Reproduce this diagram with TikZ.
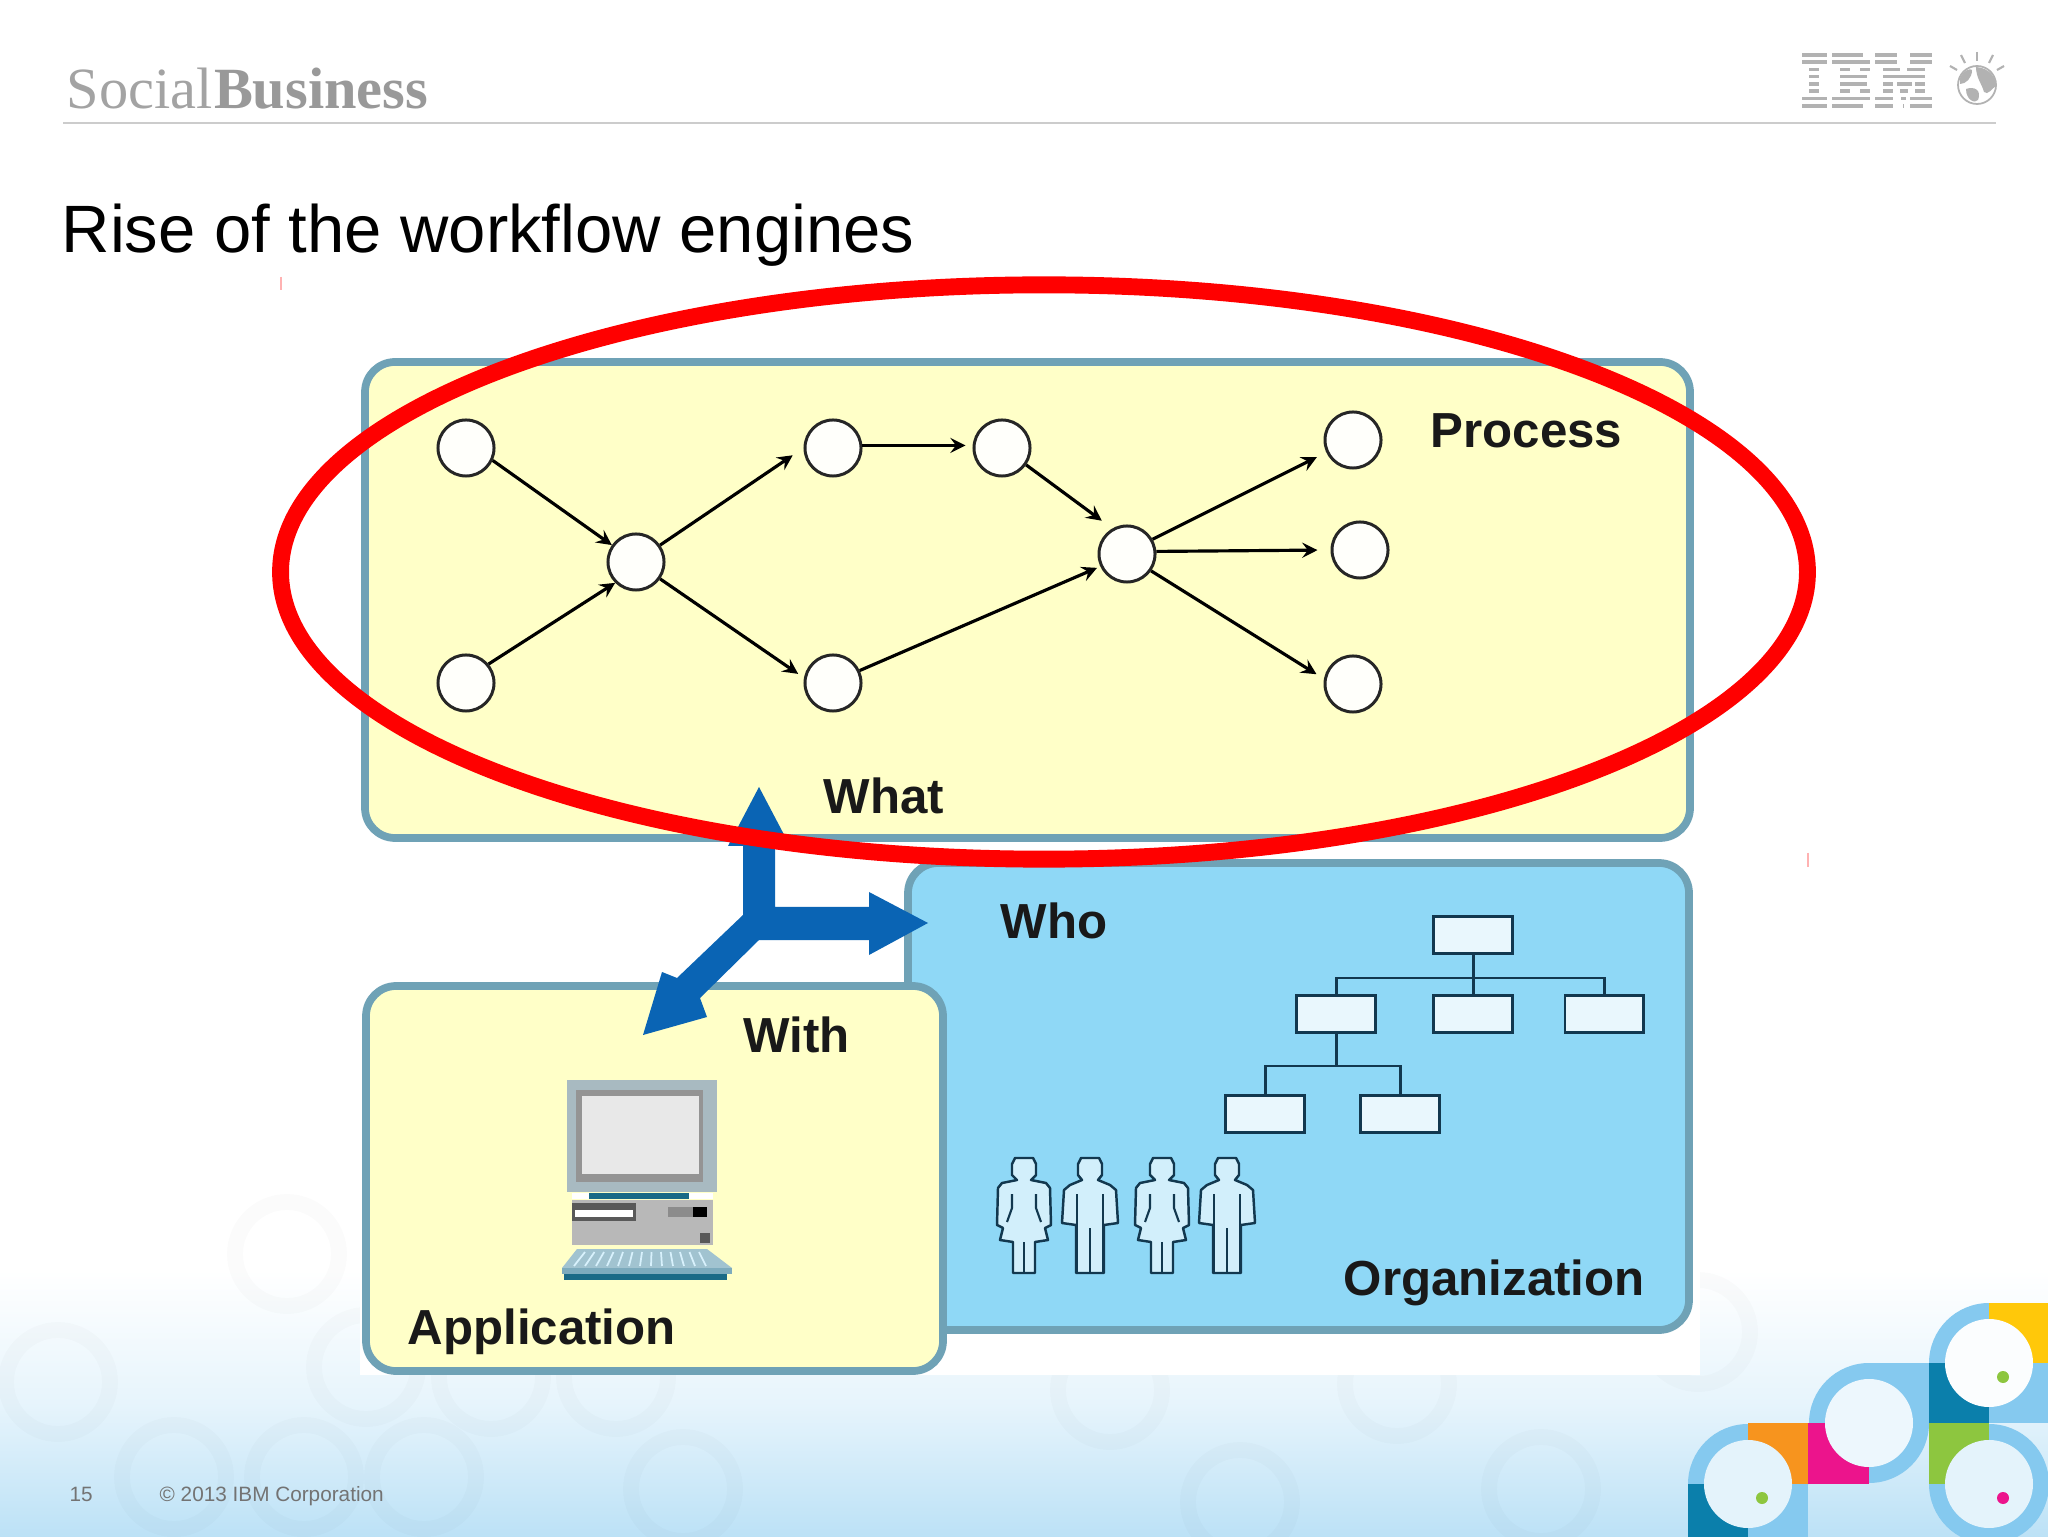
\documentclass[tikz,border=0pt]{standalone}
\usepackage{xcolor}
\usepackage{fontspec}
\setmainfont{Liberation Sans}
\newfontfamily\logofont{Liberation Serif}
\usepackage{tikz}
\usetikzlibrary{shapes.geometric, arrows, fit, positioning}

\definecolor{boxyellow}{HTML}{FFFFC8}
\definecolor{boxblue}{HTML}{8FD8F6}
\definecolor{boxedge}{HTML}{6FA2B6}
\definecolor{ringblue}{HTML}{85C9EF}
\definecolor{tealdark}{HTML}{0B7FAB}
\definecolor{pcteal}{HTML}{1A6A86}
\definecolor{flowblue}{HTML}{0A64B4}
\definecolor{logogray}{HTML}{B2B2B2}
\definecolor{figdark}{HTML}{12384F}
\definecolor{decogreen}{HTML}{8DC63F}
\definecolor{decopink}{HTML}{EC148C}
\definecolor{decoorange}{HTML}{F7941E}
\definecolor{decoyellow}{HTML}{FFC80A}

\tikzset{
	woman/.pic={
		\draw[figure] (-9,0) -- (9,0) -- (12,6) -- (12,17) -- (7,22) -- (22,25) -- (26,30) -- (27,67) -- (21,70) -- (24,82) -- (11,84) -- (11,115) -- (-11,115) -- (-11,84) -- (-24,82) -- (-21,70) -- (-27,67) -- (-26,30) -- (-22,25) -- (-7,22) -- (-12,17) -- (-12,6) -- cycle;
		\draw[figure inner] (-12,36) -- (-12,50) -- (-17,64);
		\draw[figure inner] (12,36) -- (12,50) -- (17,64);
		\draw[figure inner] (0,84) -- (0,115);
	},
	man/.pic={
		\draw[figure] (-9,0) -- (9,0) -- (12,6) -- (12,17) -- (8,22) -- (20,27) -- (26,32) -- (28,65) -- (14,67) -- (14,115) -- (-14,115) -- (-14,67) -- (-28,65) -- (-26,32) -- (-20,27) -- (-8,22) -- (-12,17) -- (-12,6) -- cycle;
		\draw[figure inner] (-13,36) -- (-13,115);
		\draw[figure inner] (13,36) -- (13,115);
		\draw[figure inner] (0,70) -- (0,115);
	}
}

\begin{document}
\begin{tikzpicture}[x=0.01cm,y=-0.01cm,arrow/.style = {line width=0.9pt,-stealth}]
		\tikzset{
			panel/.style={inner sep=0pt, draw=boxedge, line width=2.2pt, rounded corners=0.3cm},
			proc/.style={draw=black!85, circle, line width=0.85pt, fill=white!92!boxyellow, minimum size=0.56cm, inner sep=0pt},
			orgbox/.style={draw=figdark, line width=0.85pt, fill=white!80!boxblue, minimum width=0.78cm, minimum height=0.36cm, inner sep=0pt},
			boxlabel/.style={font=\bfseries\fontsize{14}{16}\selectfont, text=black!90, inner sep=0pt, anchor=west},
			figure/.style={draw=figdark, line width=0.7pt, fill=white!60!boxblue, line join=round},
			figure inner/.style={draw=figdark, line width=0.6pt},
			orgline/.style={draw=figdark, line width=0.85pt}
		}
		\useasboundingbox (0,0) rectangle (2048,1537);

		% slide background
		\fill[white] (0,0) rectangle (2048,1537);
		\shade[top color=white, bottom color=white!45!ringblue, middle color=white!80!ringblue] (0,1270) rectangle (2048,1537);
		\foreach \x/\y in {58/1382, 287/1254, 366/1367, 174/1477, 304/1477, 424/1477, 491/1377, 616/1377, 683/1489, 1110/1390, 1240/1502, 1397/1384, 1541/1489, 1698/1332}
			\draw[black, opacity=0.016, line width=4.5pt] (\x,\y) circle [radius=52];

		% header
		\node[anchor=base west, inner sep=0pt, font=\logofont\fontsize{16.6}{18}\selectfont, text=black!36] (social) at (66,109) {Social};
		\node[anchor=base west, inner sep=0pt, font=\logofont\bfseries\fontsize{16.6}{18}\selectfont, text=black!40] (business) at (social.base east) {Business};
		\draw[black!20, line width=0.5pt] (63,123) -- (1996,123);
		\foreach \r/\a/\b in {0/1802/1827, 1/1802/1827, 2/1809/1819, 3/1809/1819, 4/1809/1819, 5/1809/1819, 6/1802/1827, 7/1802/1827,
			0/1832/1863, 1/1832/1870, 2/1840/1850, 2/1860/1870, 3/1840/1867, 4/1840/1867, 5/1840/1850, 5/1860/1870, 6/1832/1870, 7/1832/1863,
			0/1875/1897, 0/1910/1932, 1/1875/1897, 1/1910/1932, 2/1883/1900, 2/1907/1925, 3/1883/1925, 4/1883/1893, 4/1897/1912, 4/1915/1925, 5/1883/1893, 5/1900/1908, 5/1915/1925, 6/1875/1893, 6/1901/1906, 6/1910/1932, 7/1875/1893, 7/1903/1904, 7/1910/1932}
			\fill[logogray] (\a,53+7.3*\r) rectangle (\b,56.6+7.3*\r);
		\draw[logogray, line width=0.5pt, fill=white] (1977,85) circle [radius=19];
		\fill[logogray] (1976,67) .. controls (1990,68) and (1996,78) .. (1996,86) .. controls (1992,88) and (1988,96) .. (1984,92) .. controls (1982,84) and (1976,78) .. (1976,67) -- cycle;
		\fill[logogray] (1966,89) .. controls (1974,86) and (1982,90) .. (1978,100) .. controls (1975,104) and (1966,100) .. (1966,89) -- cycle;
		\fill[logogray] (1960,78) .. controls (1964,70) and (1970,68) .. (1972,70) .. controls (1972,78) and (1966,84) .. (1960,84) -- cycle;
		\foreach \p/\q/\u/\v in {1977/52/1977/61, 1961/55/1965/63, 1993/55/1989/63, 1950/66/1957/70, 2004/66/1997/70}
			\draw[logogray, line width=0.6pt] (\p,\q) -- (\u,\v);

		\node[anchor=base west, inner sep=0pt, font=\fontsize{19.05}{22}\selectfont] (title) at (61,253) {Rise of the workflow engines};

		% faint marks
		\draw[red!30, line width=0.3pt] (281,277) -- (281,290);
		\draw[red!30, line width=0.3pt] (1808,853) -- (1808,867);

		% picture panels
		\fill[white] (360,355) rectangle (1700,1375);
		\node[fit={(908,863) (1689,1330)}, panel, fill=boxblue] (who) {};
		\node[fit={(366,986) (943,1371)}, panel, fill=boxyellow] (with) {};
		\node[fit={(365,362) (1690,838)}, panel, fill=boxyellow] (what) {};

		% process graph
		\node[proc] (start1) at (466,448) {};
		\node[proc] (start2) at (466,683) {};
		\node[proc] (join1) at (636,562) {};
		\node[proc] (up1) at (833,448) {};
		\node[proc] (up2) at (1002,448) {};
		\node[proc] (down1) at (833,683) {};
		\node[proc] (join2) at (1127,554) {};
		\node[proc] (end1) at (1353,440) {};
		\node[proc] (end2) at (1360,550) {};
		\node[proc] (end3) at (1353,684) {};

		\draw [arrow] (start1.-25) -- (join1.145);
		\draw [arrow] (start2.40) -- (join1.225);
		\draw [arrow, shorten >=3.7pt] (join1.35) -- (up1.west);
		\draw [arrow, shorten >=2pt] (join1.-35) -- (down1.170);
		\draw [arrow, shorten >=2pt] (up1.5) -- (up2.175);
		\draw [arrow, shorten >=3.7pt] (up2.-35) -- (join2.120);
		\draw [arrow, shorten >=1pt] (down1.25) -- (join2.205);
		\draw [arrow, shorten >=3pt] (join2.30) -- (end1.205);
		\draw [arrow, shorten >=3.7pt] (join2.5) -- (end2.180);
		\draw [arrow, shorten >=2.5pt] (join2.-35) -- (end3.170);

		% org chart
		\node[orgbox] (org0) at (1473,935) {};
		\node[orgbox] (org1) at (1336,1014) {};
		\node[orgbox] (org2) at (1473,1014) {};
		\node[orgbox] (org3) at (1604,1014) {};
		\node[orgbox] (org4) at (1265,1114) {};
		\node[orgbox] (org5) at (1400,1114) {};
		\coordinate (bar1) at (1473,978);
		\coordinate (bar2) at (1336,1066);
		\draw[orgline] (org0) -- (org2);
		\draw[orgline] (org1.north) |- (bar1) -| (org3.north);
		\draw[orgline] (org1) -- (bar2);
		\draw[orgline] (org4.north) |- (bar2) -| (org5.north);

		\foreach \x/\t in {1024/woman, 1090/man, 1162/woman, 1227/man}
			\pic at (\x,1158) {\t};

		% computer
		\fill[black!28!boxedge!50!white] (567,1080) rectangle (717,1192);
		\fill[black!42] (576,1090) rectangle (703,1182);
		\fill[black!9] (582,1096) rectangle (699,1174);
		\fill[white] (572,1193) rectangle (713,1199);
		\fill[pcteal] (589,1193) rectangle (689,1199);
		\fill[black!28] (572,1200) rectangle (713,1245);
		\fill[black!65] (572,1203) rectangle (636,1221);
		\fill[white] (575,1210) rectangle (633,1217);
		\fill[black!45] (668,1207) rectangle (693,1217);
		\fill[black] (693,1207) rectangle (707,1217);
		\fill[black!65] (700,1233) rectangle (710,1243);
		\fill[white!35!boxedge] (577,1249) -- (707,1249) -- (732,1268) -- (562,1268) -- cycle;
		\foreach \k in {0,...,12}
			\draw[white!65!boxblue, line width=0.5pt] (585+\k*9.5,1252) -- (574+\k*11,1266);
		\fill[white!10!boxedge] (562,1268) rectangle (732,1274);
		\fill[pcteal] (564,1274) rectangle (727,1280);

		% text in the panels
		\node[boxlabel] (process) at (1430,431) {Process};
		\node[boxlabel] (whatlabel) at (823,796) {What};
		\node[boxlabel] (wholabel) at (1000,921) {Who};
		\node[boxlabel] (withlabel) at (743,1035) {With};
		\node[boxlabel] (application) at (407,1332) {Application};
		\node[boxlabel] (organization) at (1343,1283) {Organization};

		% blue arrows
		\fill[flowblue] (759,787) -- (790,846) -- (775,846) -- (775,907) -- (869,907) -- (869,892) -- (928,923) -- (869,955) -- (869,940) -- (759,940) -- (700,998) -- (707,1017) -- (643,1035) -- (662,972) -- (677,978) -- (743,915) -- (743,846) -- (728,846) -- cycle;

		% red ellipse
		\node[draw=red, line width=4.8pt, ellipse, minimum width=15.26cm, minimum height=5.74cm, inner sep=0pt] (focus) at (1044,572) {};

		% corner decoration
		\foreach \x/\y in {1989/1363, 1869/1423, 1989/1484, 1748/1484}
			\fill[ringblue] (\x,\y) circle [radius=60];
		\fill[ringblue] (1989,1363) rectangle (2048,1423);
		\fill[ringblue] (1869,1363) rectangle (1989,1423);
		\fill[ringblue] (1748,1484) rectangle (1808,1537);
		\fill[decoyellow] (1989,1303) rectangle (2048,1363);
		\fill[tealdark] (1929,1363) rectangle (1989,1423);
		\fill[decogreen] (1929,1423) rectangle (1989,1484);
		\fill[decopink] (1808,1423) rectangle (1869,1484);
		\fill[decoorange] (1748,1423) rectangle (1808,1484);
		\fill[tealdark] (1688,1484) rectangle (1748,1537);
		\foreach \x/\y/\c in {1989/1363/white!97!ringblue, 1869/1423/white!85!ringblue, 1989/1484/white!78!ringblue, 1748/1484/white!78!ringblue}
			\fill[\c] (\x,\y) circle [radius=44];
		\fill[decogreen] (2003,1377) circle [radius=6];
		\fill[decogreen] (1762,1498) circle [radius=6];
		\fill[decopink] (2003,1498) circle [radius=6];

		% footer
		\node[anchor=base west, inner sep=0pt, font=\fontsize{5.9}{7}\selectfont, text=black!55] (pagenum) at (69,1501) {15};
		\node[anchor=base west, inner sep=0pt, font=\fontsize{5.9}{7}\selectfont, text=black!55] (copyright) at (159,1501) {© 2013 IBM Corporation};
	\end{tikzpicture}
\end{document}
